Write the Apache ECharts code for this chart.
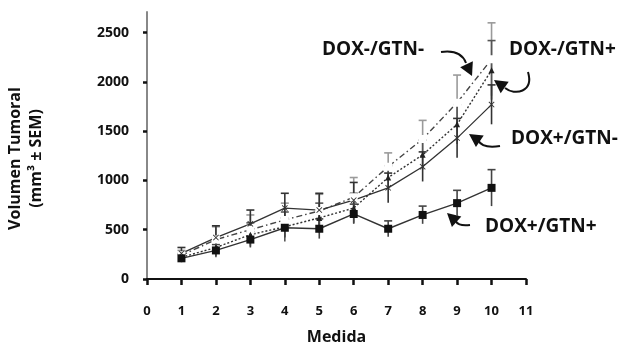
<!DOCTYPE html>
<html>
<head>
<meta charset="utf-8">
<script src="https://cdn.jsdelivr.net/npm/echarts@6/dist/echarts.min.js"></script>
<style>
  html, body { margin: 0; padding: 0; background: #fff; }
  #chart { width: 619px; height: 345px; }
</style>
</head>
<body>
<div id="chart"></div>
<script>
// medidas 1..10
const medidas = [1, 2, 3, 4, 5, 6, 7, 8, 9, 10]
const yTicks = [0, 500, 1000, 1500, 2000, 2500]
const xTicks = [0, 1, 2, 3, 4, 5, 6, 7, 8, 9, 10, 11]

// volumen tumoral (mm3) por grupo
const doxMgtnM = [240, 400, 500, 600, 690, 830, 1140, 1420, 1790, 2230]
const doxMgtnP = [220, 320, 450, 530, 620, 720, 1030, 1260, 1570, 2120]
const doxPgtnM = [260, 420, 560, 720, 700, 800, 925, 1140, 1430, 1770]
const doxPgtnP = [210, 290, 400, 520, 510, 660, 510, 650, 770, 925]

// SEM
const semMM = [50, 130, 150, 170, 170, 200, 140, 190, 280, 370]
const semMP = [40, 100, 120, 150, 150, 150, 120, 150, 200, 300]
const semPM = [60, 120, 140, 150, 170, 180, 150, 150, 200, 200]
const semPP = [40, 60, 80, 100, 100, 100, 80, 90, 130, 185]

const fontFam = '"Open Sans", "Noto Sans", sans-serif'

function toPairs (vals) {
  return medidas.map((m, i) => [m, vals[i]])
}
function toErr (vals, sem) {
  return medidas.map((m, i) => [m, vals[i] - sem[i], vals[i] + sem[i]])
}

function errorSeries (vals, sem, color) {
  return {
    type: 'custom',
    silent: true,
    z: 1,
    data: toErr(vals, sem),
    renderItem: function (params, api) {
      const lo = api.coord([api.value(0), api.value(1)])
      const hi = api.coord([api.value(0), api.value(2)])
      const w = 4
      const style = { stroke: color, lineWidth: 1.6 }
      return {
        type: 'group',
        children: [
          { type: 'line', shape: { x1: hi[0], y1: hi[1], x2: lo[0], y2: lo[1] }, style: style },
          { type: 'line', shape: { x1: hi[0] - w, y1: hi[1], x2: hi[0] + w, y2: hi[1] }, style: style }
        ]
      }
    }
  }
}

const crossPath = 'path://M1,0L5,4L9,0L10,1L6,5L10,9L9,10L5,6L1,10L0,9L4,5L0,1Z'

function arrowHead (tip, from, color) {
  // triangulo de "from" hacia "tip"
  const dx = tip[0] - from[0]
  const dy = tip[1] - from[1]
  const len = Math.sqrt(dx * dx + dy * dy)
  const ux = dx / len
  const uy = dy / len
  const L = 13
  const W = 7
  const bx = tip[0] - ux * L
  const by = tip[1] - uy * L
  return {
    type: 'polygon',
    shape: { points: [tip, [bx - uy * W, by + ux * W], [bx + uy * W, by - ux * W]] },
    style: { fill: color }
  }
}

function curve (p1, c1, c2, p2) {
  return {
    type: 'bezierCurve',
    shape: { x1: p1[0], y1: p1[1], cpx1: c1[0], cpy1: c1[1], cpx2: c2[0], cpy2: c2[1], x2: p2[0], y2: p2[1] },
    style: { stroke: '#111', lineWidth: 2, fill: null }
  }
}

function label (text, x, y) {
  return {
    type: 'text',
    left: x,
    top: y,
    style: { text: text, font: 'bold 19px ' + fontFam, fill: '#111' }
  }
}

const chart = echarts.init(document.getElementById('chart'))

const option = {
  animation: false,
  backgroundColor: '#fff',
  grid: { left: 147, right: 93, top: 12, bottom: 66, outerBoundsMode: 'none' },
  xAxis: {
    type: 'value',
    min: 0,
    max: 11,
    interval: 1,
    name: 'Medida',
    nameLocation: 'middle',
    nameGap: 50,
    nameTextStyle: { fontFamily: fontFam, fontWeight: 'bold', fontSize: 16, color: '#111' },
    axisLine: { lineStyle: { color: '#111', width: 2 } },
    axisTick: { show: true, length: 6, lineStyle: { color: '#111', width: 2.5 } },
    axisLabel: {
      customValues: xTicks,
      margin: 26,
      fontFamily: fontFam,
      fontWeight: 'bold',
      fontSize: 13,
      color: '#111'
    },
    splitLine: { show: false }
  },
  yAxis: {
    type: 'value',
    min: 0,
    max: 2710,
    name: 'Volumen Tumoral\n(mm³ ± SEM)',
    nameLocation: 'middle',
    nameGap: 100,
    nameRotate: 90,
    nameTextStyle: {
      fontFamily: fontFam,
      fontWeight: 'bold',
      fontSize: 16,
      color: '#111',
      lineHeight: 21,
      padding: [0, 26, 0, 0]
    },
    axisLine: { show: true, lineStyle: { color: '#888', width: 2 } },
    axisTick: { show: true, customValues: yTicks, length: 4, lineStyle: { color: '#111', width: 2.5 } },
    axisLabel: {
      customValues: yTicks,
      formatter: function (v) { return String(v) },
      margin: 18,
      fontFamily: fontFam,
      fontWeight: 'bold',
      fontSize: 14,
      color: '#111'
    },
    splitLine: { show: false }
  },
  graphic: [
    label('DOX-/GTN-', 322, 40),
    label('DOX-/GTN+', 509, 40),
    label('DOX+/GTN-', 511, 129),
    label('DOX+/GTN+', 485, 217),
    curve([441, 52], [455, 50], [463, 55], [466, 63]),
    arrowHead([472, 76], [465, 61], '#111'),
    curve([528, 72], [534, 92], [515, 96], [505, 88]),
    arrowHead([494, 80], [507, 89], '#111'),
    curve([500, 146], [488, 148], [481, 146], [478, 140]),
    arrowHead([469, 134], [481, 142], '#111'),
    curve([470, 225], [460, 226], [457, 224], [455, 220]),
    arrowHead([447, 213], [458, 223], '#111')
  ],
  series: [
    errorSeries(doxMgtnM, semMM, '#9a9a9a'),
    errorSeries(doxMgtnP, semMP, '#555'),
    errorSeries(doxPgtnM, semPM, '#333'),
    errorSeries(doxPgtnP, semPP, '#444'),
    {
      name: 'DOX-/GTN-',
      type: 'line',
      data: toPairs(doxMgtnM),
      symbol: 'emptyRect',
      symbolSize: 6,
      z: 3,
      lineStyle: { color: '#444', width: 1.4, type: [6, 3, 1.5, 3] },
      itemStyle: { color: '#fff', borderColor: '#333', borderWidth: 1.3 }
    },
    {
      name: 'DOX-/GTN+',
      type: 'line',
      data: toPairs(doxMgtnP),
      symbol: 'triangle',
      symbolSize: 6,
      z: 3,
      lineStyle: { color: '#333', width: 1.4, type: [2, 2] },
      itemStyle: { color: '#222' }
    },
    {
      name: 'DOX+/GTN-',
      type: 'line',
      data: toPairs(doxPgtnM),
      symbol: crossPath,
      symbolSize: 6,
      z: 3,
      lineStyle: { color: '#333', width: 1.3 },
      itemStyle: { color: '#333' }
    },
    {
      name: 'DOX+/GTN+',
      type: 'line',
      data: toPairs(doxPgtnP),
      symbol: 'rect',
      symbolSize: 8,
      z: 4,
      lineStyle: { color: '#333', width: 1.4 },
      itemStyle: { color: '#111' }
    }
  ]
}

chart.setOption(option)
</script>
</body>
</html>
